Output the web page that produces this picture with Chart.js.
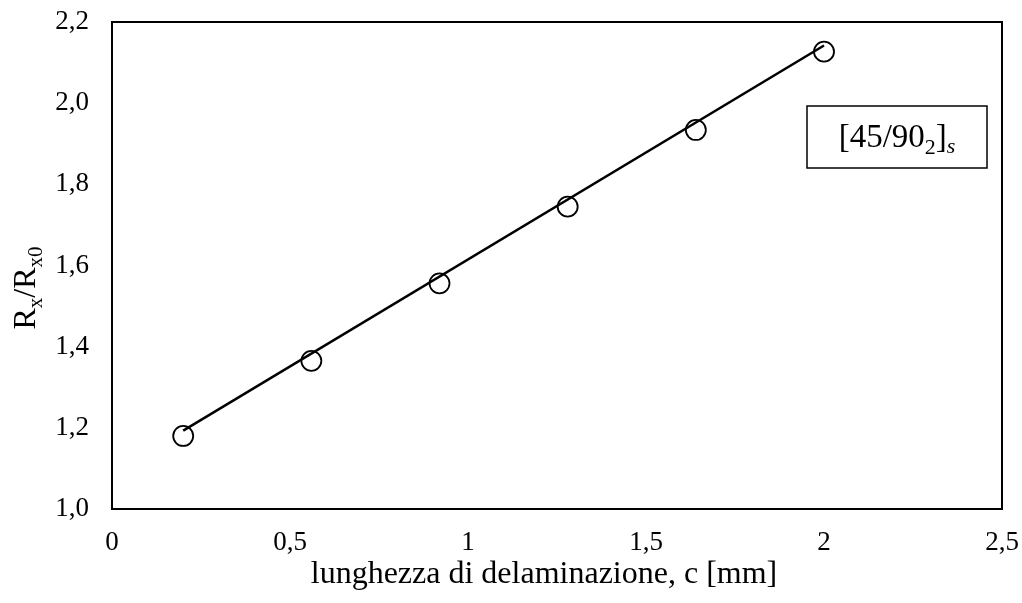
<!DOCTYPE html>
<html>
<head>
<meta charset="utf-8">
<script src="https://cdn.jsdelivr.net/npm/chart.js@4/dist/chart.umd.min.js"></script>
<style>
  body { margin: 0; background: #fff; }
  #chart { display: block; }
</style>
</head>
<body>
<canvas id="chart" width="1022" height="603"></canvas>
<script>
// measured points: delamination length [mm] vs Rx/Rx0
const lengths = [0.2, 0.56, 0.92, 1.28, 1.64, 2.0];
const ratios = [1.18, 1.365, 1.556, 1.745, 1.934, 2.127];

// linear trend line end points
const trendX = [0.2, 2.0];
const trendY = [1.193, 2.142];

const xTicks = [0, 0.5, 1, 1.5, 2, 2.5];
const yTicks = [1.0, 1.2, 1.4, 1.6, 1.8, 2.0, 2.2];

const serif = '"Liberation Serif", "Times New Roman", serif';
const comma = v => String(v).replace('.', ',');

// draws a run of [text, font, baseline shift] pieces starting at x
function drawRun(ctx, parts, x, y) {
  parts.forEach(p => {
    ctx.font = p[1];
    ctx.fillText(p[0], x, y + p[2]);
    x += ctx.measureText(p[0]).width;
  });
}
function runWidth(ctx, parts) {
  let w = 0;
  parts.forEach(p => { ctx.font = p[1]; w += ctx.measureText(p[0]).width; });
  return w;
}

// plot frame, axis titles with subscripts and the layup label box
const extras = {
  id: 'extras',
  afterDraw(chart) {
    const ctx = chart.ctx;
    const a = chart.chartArea;
    ctx.save();
    ctx.strokeStyle = '#000';
    ctx.lineWidth = 2;
    ctx.strokeRect(a.left, a.top, a.right - a.left, a.bottom - a.top);

    ctx.fillStyle = '#000';
    ctx.textBaseline = 'alphabetic';

    // x title
    ctx.font = '32px ' + serif;
    ctx.textAlign = 'center';
    ctx.fillText('lunghezza di delaminazione, c [mm]', 544, 583);

    // y title: R_x/R_x0
    ctx.textAlign = 'left';
    const big = '32px ' + serif, small = '21px ' + serif;
    const yt = [['R', big, 0], ['x', small, 7], ['/R', big, 0], ['x0', small, 7]];
    ctx.save();
    ctx.translate(35, 288);
    ctx.rotate(-Math.PI / 2);
    drawRun(ctx, yt, -runWidth(ctx, yt) / 2, 0);
    ctx.restore();

    // label box
    ctx.lineWidth = 1.5;
    ctx.strokeRect(807, 106, 180, 62);
    const lb = [['[45/90', '33px ' + serif, 0], ['2', '22px ' + serif, 7],
                [']', '33px ' + serif, 0], ['s', 'italic 22px ' + serif, 6]];
    drawRun(ctx, lb, 897 - runWidth(ctx, lb) / 2, 147);
    ctx.restore();
  }
};

new Chart(document.getElementById('chart'), {
  type: 'scatter',
  data: {
    datasets: [
      {
        type: 'line',
        data: trendX.map((x, i) => ({ x: x, y: trendY[i] })),
        borderColor: '#000',
        borderWidth: 2.5,
        pointRadius: 0,
        fill: false,
        order: 0
      },
      {
        data: lengths.map((x, i) => ({ x: x, y: ratios[i] })),
        pointStyle: 'circle',
        pointRadius: 10,
        borderColor: '#000',
        backgroundColor: 'rgba(0,0,0,0)',
        borderWidth: 1.8,
        order: 1
      }
    ]
  },
  options: {
    responsive: false,
    animation: false,
    layout: { padding: { left: 0, right: 20, top: 22, bottom: 0 } },
    plugins: { legend: { display: false }, tooltip: { enabled: false } },
    scales: {
      x: {
        type: 'linear',
        min: 0, max: 2.5,
        afterBuildTicks: s => { s.ticks = xTicks.map(v => ({ value: v })); },
        afterFit: s => { s.height = 94; s.paddingLeft = 0; s.paddingRight = 0; },
        grid: { display: false, drawTicks: false },
        border: { display: false },
        ticks: {
          padding: 18,
          color: '#000',
          maxRotation: 0,
          font: { family: serif, size: 27 },
          callback: v => comma(v)
        }
      },
      y: {
        type: 'linear',
        min: 1.0, max: 2.2,
        afterBuildTicks: s => { s.ticks = yTicks.map(v => ({ value: v })); },
        afterFit: s => { s.width = 112; s.paddingTop = 0; s.paddingBottom = 0; },
        grid: { display: false, drawTicks: false },
        border: { display: false },
        ticks: {
          padding: 23,
          color: '#000',
          font: { family: serif, size: 27 },
          callback: v => comma(v.toFixed(1))
        }
      }
    }
  },
  plugins: [extras]
});
</script>
</body>
</html>
